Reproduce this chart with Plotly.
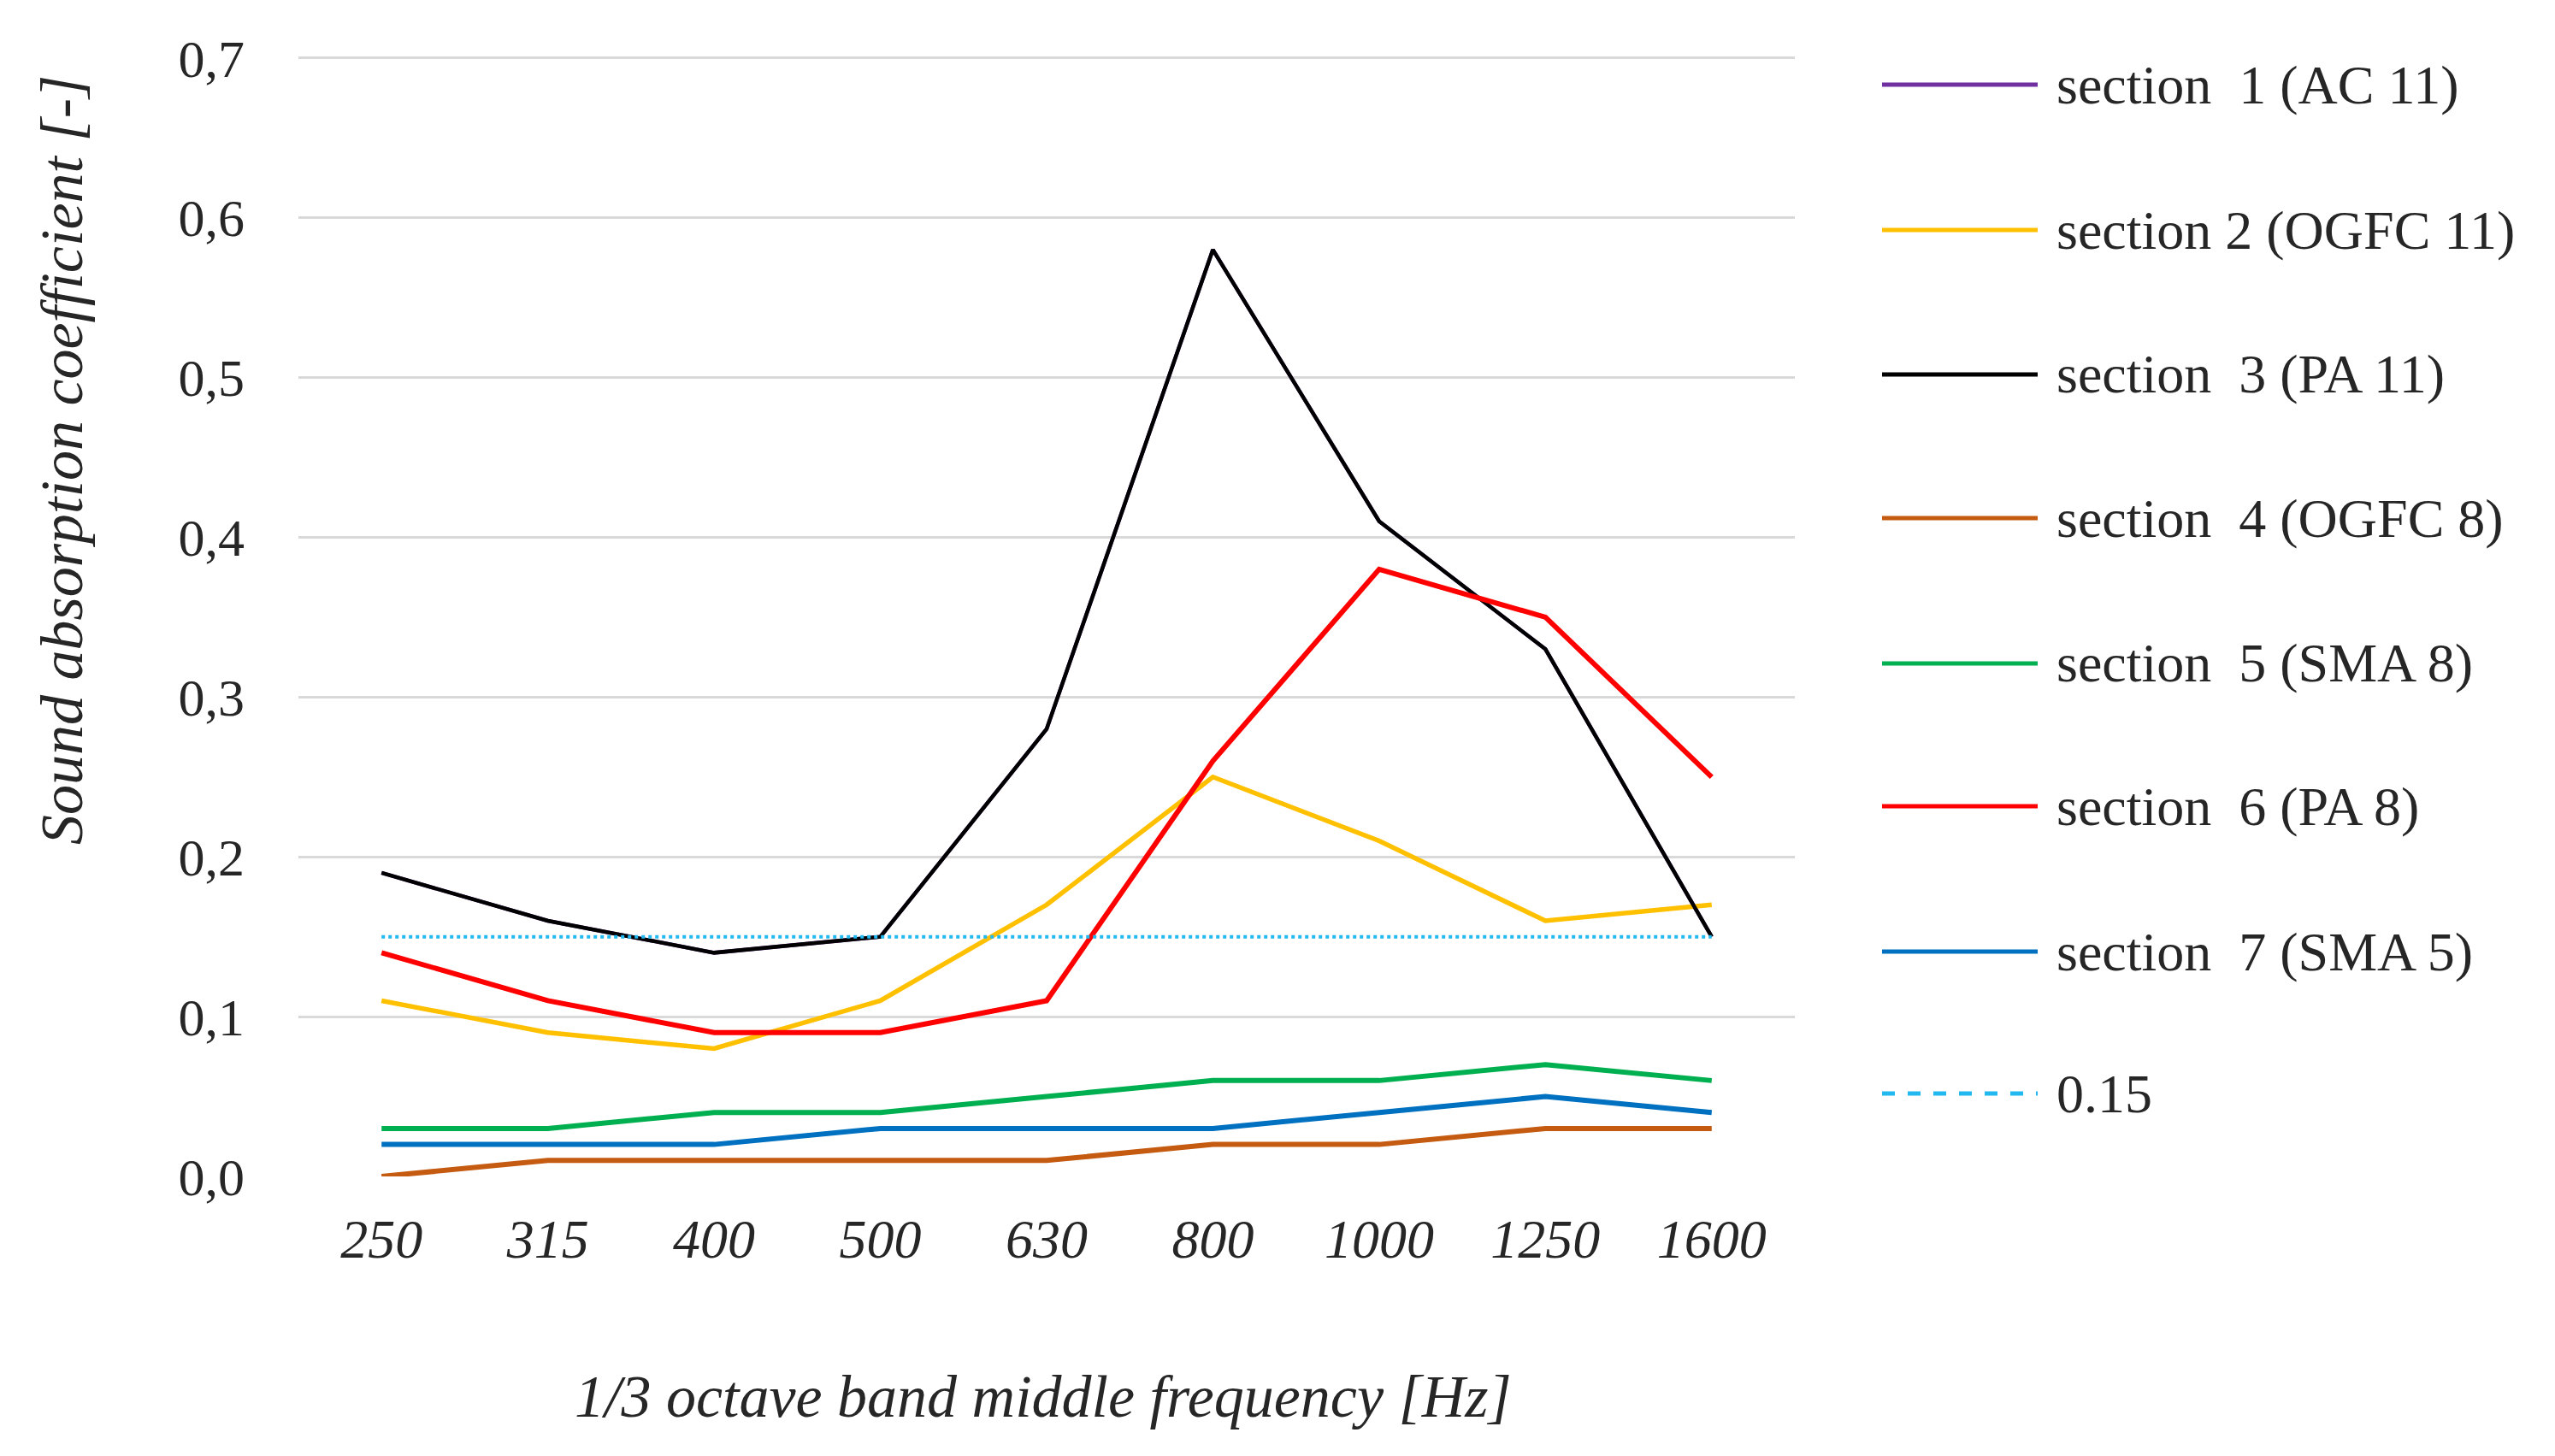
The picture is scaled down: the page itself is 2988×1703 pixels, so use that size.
import plotly.graph_objects as go

frequencies = ["250", "315", "400", "500", "630", "800", "1000", "1250", "1600"]
series_names = ["section  1 (AC 11)", "section 2 (OGFC 11)", "section  3 (PA 11)",
                "section  4 (OGFC 8)", "section  5 (SMA 8)", "section  6 (PA 8)",
                "section  7 (SMA 5)", "0.15"]
section1 = [0.19, 0.16, 0.14, 0.15, 0.28, 0.58, 0.41, 0.33, 0.15]
section2 = [0.11, 0.09, 0.08, 0.11, 0.17, 0.25, 0.21, 0.16, 0.17]
section3 = [0.19, 0.16, 0.14, 0.15, 0.28, 0.58, 0.41, 0.33, 0.15]
section4 = [0.00, 0.01, 0.01, 0.01, 0.01, 0.02, 0.02, 0.03, 0.03]
section5 = [0.03, 0.03, 0.04, 0.04, 0.05, 0.06, 0.06, 0.07, 0.06]
section6 = [0.14, 0.11, 0.09, 0.09, 0.11, 0.26, 0.38, 0.35, 0.25]
section7 = [0.02, 0.02, 0.02, 0.03, 0.03, 0.03, 0.04, 0.05, 0.04]
threshold = [0.15] * 9
y_ticks = [0.0, 0.1, 0.2, 0.3, 0.4, 0.5, 0.6, 0.7]

colors = ["#7030A0", "#FFC000", "#000000", "#C55A11", "#00B050", "#FF0000", "#0070C0", "#22B8F0"]
widths = [4.5, 5.5, 4.5, 6, 6, 6, 6, 4]
dashes = ["solid"] * 7 + ["4px,4px"]
data = [section1, section2, section3, section4, section5, section6, section7, threshold]

W, H = 2988, 1703
OFF = 8  # page body margin
L, R, T, B = 349 - OFF, 2099 - OFF, 65 - OFF, 1376 - OFF

FONT = "Liberation Serif, Times New Roman, serif"

fig = go.Figure()
for name, vals, c, w, d in zip(series_names, data, colors, widths, dashes):
    fig.add_trace(go.Scatter(x=frequencies, y=vals, mode="lines", name=name,
                             line=dict(color=c, width=w, dash=d), showlegend=False))

def px(xp):
    return (xp - OFF - L) / (R - L)

def py(yp):
    return (B - (yp - OFF)) / (B - T)

# manual legend
legend_rows = [99, 269, 438, 606, 776, 943, 1113, 1279]
legend_dash = ["solid"] * 7 + ["dash"]
for name, c, yrow, d in zip(series_names, colors, legend_rows, legend_dash):
    fig.add_shape(type="line", xref="paper", yref="paper",
                  x0=px(2201), x1=px(2383), y0=py(yrow), y1=py(yrow),
                  line=dict(color=c, width=5, dash=d))
    fig.add_annotation(xref="paper", yref="paper", x=px(2403), y=py(yrow),
                       text=name, showarrow=False, xanchor="left", yanchor="middle",
                       font=dict(family=FONT, size=64, color="#262626"))

fig.add_annotation(xref="paper", yref="paper", x=px(1220), y=py(1633),
                   text="1/3 octave band middle frequency [Hz]", showarrow=False,
                   xanchor="center", yanchor="middle",
                   font=dict(family=FONT, size=70, color="#262626", style="italic"))
fig.add_annotation(xref="paper", yref="paper", x=px(72), y=py(538),
                   text="Sound absorption coefficient [-]", showarrow=False, textangle=-90,
                   xanchor="center", yanchor="middle",
                   font=dict(family=FONT, size=70, color="#262626", style="italic"))

fig.update_layout(
    width=W, height=H,
    margin=dict(l=L, r=W - R, t=T, b=H - B, pad=0),
    plot_bgcolor="white", paper_bgcolor="white",
    separators=", ",
    showlegend=False,
)
fig.update_xaxes(type="category", range=[-0.5, 8.5], showgrid=False, zeroline=False,
                 showline=False, ticks="", ticklabelstandoff=30,
                 tickfont=dict(family=FONT, size=64, color="#262626", style="italic"))
fig.update_yaxes(range=[0, 0.7015], tickvals=y_ticks, tickformat=".1f",
                 showgrid=True, gridcolor="#D9D9D9", gridwidth=3, zeroline=False,
                 showline=False, ticks="", ticklabelstandoff=62,
                 tickfont=dict(family=FONT, size=62, color="#262626"))

fig.write_html("out.html")
